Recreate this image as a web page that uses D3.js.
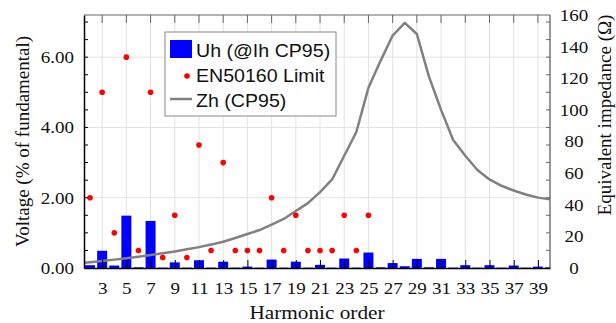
<!DOCTYPE html>
<html>
<head>
<meta charset="utf-8">
<script src="https://cdn.jsdelivr.net/npm/d3@7"></script>
<style>
  body { margin: 0; background: #fff; }
</style>
</head>
<body>
<div id="chart"></div>
<script>
// harmonic orders and values
const uhOrders = d3.range(2, 41);
const uhValues = [0.08, 0.49, 0.07, 1.49, 0.02, 1.34, 0.01, 0.16, 0.01, 0.22,
  0.01, 0.18, 0.01, 0.04, 0.01, 0.24, 0.01, 0.18, 0.01, 0.09,
  0.01, 0.27, 0.01, 0.44, 0.02, 0.14, 0.05, 0.26, 0.02, 0.26,
  0.01, 0.08, 0.01, 0.08, 0.01, 0.07, 0.01, 0.04, 0.02];

const limitOrders = d3.range(2, 26);
const limitValues = [2, 5, 1, 6, 0.5, 5, 0.3, 1.5, 0.3, 3.5,
  0.5, 3, 0.5, 0.5, 0.5, 2, 0.5, 1.5, 0.5, 0.5,
  0.5, 1.5, 0.5, 1.5];

const zhOrders = d3.range(1, 41);
const zhValues = [3.0, 3.7, 4.5, 5.3, 6.1, 7.1, 8.2, 9.3, 10.5, 11.8,
  13.2, 14.8, 16.6, 19, 21.5, 24, 27.5, 31, 36, 41,
  48, 56, 71, 86, 114, 131, 147, 155, 148, 121,
  100, 81, 71, 62, 56, 52, 49, 46.5, 44.5, 43.5];

const xTickValues = d3.range(3, 40, 2);
const yLeftTicks = [0, 2, 4, 6];
const yRightTicks = [0, 20, 40, 60, 80, 100, 120, 140, 160];

const legendItems = ["Uh (@Ih CP95)", "EN50160 Limit", "Zh (CP95)"];

const W = 616, H = 323;
const margin = { top: 15, right: 66, bottom: 55, left: 84 };
const width = W - margin.left - margin.right;
const height = H - margin.top - margin.bottom;
// the original picture is a bit wider than tall, text looks stretched
const sx = 1.12;

const svg = d3.select("#chart").append("svg")
  .attr("width", W).attr("height", H);

const g = svg.append("g")
  .attr("transform", `translate(${margin.left},${margin.top})`);

const x = d3.scaleLinear().domain([1.5, 40]).range([0, width]);
const yL = d3.scaleLinear().domain([0, 7.2]).range([height, 0]);
const yR = d3.scaleLinear().domain([0, 160]).range([height, 0]);

g.append("defs").append("clipPath").attr("id", "plot-clip")
  .append("rect").attr("width", width).attr("height", height);

// grid
g.append("g")
  .selectAll("line")
  .data(xTickValues)
  .join("line")
  .attr("x1", d => x(d)).attr("x2", d => x(d))
  .attr("y1", 0).attr("y2", height)
  .attr("stroke", "#e2e2e2").attr("stroke-width", 1);

g.append("g")
  .selectAll("line")
  .data(yLeftTicks.filter(d => d > 0))
  .join("line")
  .attr("x1", 0).attr("x2", width)
  .attr("y1", d => yL(d)).attr("y2", d => yL(d))
  .attr("stroke", "#e2e2e2").attr("stroke-width", 1);

// bars
const barW = 10;
g.append("g")
  .selectAll("rect")
  .data(uhOrders.map((h, i) => ({ h, v: uhValues[i] })))
  .join("rect")
  .attr("clip-path", "url(#plot-clip)")
  .attr("x", d => x(d.h) - barW / 2)
  .attr("width", barW)
  .attr("y", d => yL(d.v))
  .attr("height", d => height - yL(d.v))
  .attr("fill", "#0000ff");

// impedance line
const line = d3.line()
  .x(d => x(d.h))
  .y(d => yR(d.v));

g.append("path")
  .datum(zhOrders.map((h, i) => ({ h, v: zhValues[i] })))
  .attr("clip-path", "url(#plot-clip)")
  .attr("fill", "none")
  .attr("stroke", "#808080")
  .attr("stroke-width", 2.5)
  .attr("stroke-linejoin", "round")
  .attr("d", line);

// limit points
g.append("g")
  .selectAll("circle")
  .data(limitOrders.map((h, i) => ({ h, v: limitValues[i] })))
  .join("circle")
  .attr("cx", d => x(d.h))
  .attr("cy", d => yL(d.v))
  .attr("r", 2.8)
  .attr("fill", "#ff0000");

// frame: top and right in gray, left and bottom black
g.append("line").attr("x1", 0).attr("x2", width).attr("y1", 0).attr("y2", 0)
  .attr("stroke", "#999").attr("stroke-width", 1.5);
g.append("line").attr("x1", width).attr("x2", width).attr("y1", 0).attr("y2", height)
  .attr("stroke", "#777").attr("stroke-width", 1.5);

// top ticks
g.append("g")
  .selectAll("line")
  .data(xTickValues)
  .join("line")
  .attr("x1", d => x(d)).attr("x2", d => x(d))
  .attr("y1", 0).attr("y2", 8)
  .attr("stroke", "#666").attr("stroke-width", 1);

// right side minor ticks (mirror of left axis)
g.append("g")
  .selectAll("line")
  .data(d3.range(0.5, 7.2, 0.5))
  .join("line")
  .attr("x1", width - 4).attr("x2", width)
  .attr("y1", d => yL(d)).attr("y2", d => yL(d))
  .attr("stroke", "#666").attr("stroke-width", 1);

const serif = "'Liberation Serif', 'Times New Roman', serif";

// bottom axis
const xAxis = g.append("g")
  .attr("transform", `translate(0,${height})`)
  .call(d3.axisBottom(x).tickValues(xTickValues).tickSize(0).tickPadding(14)
    .tickFormat(d3.format("d")));
xAxis.select(".domain").attr("stroke", "#000").attr("stroke-width", 1.5);
xAxis.selectAll(".tick text")
  .attr("transform", `scale(${sx},1)`)
  .style("font-family", serif).style("font-size", "17px").attr("fill", "#111");
xAxis.selectAll(".tick").append("line")
  .attr("y1", 0).attr("y2", -8).attr("stroke", "#000");

// left axis
const yAxisL = g.append("g")
  .call(d3.axisLeft(yL).tickValues(yLeftTicks).tickSize(0).tickPadding(9)
    .tickFormat(d3.format(".2f")));
yAxisL.select(".domain").attr("stroke", "#000").attr("stroke-width", 1.5);
yAxisL.selectAll(".tick text")
  .attr("transform", `scale(${sx},1)`)
  .style("font-family", serif).style("font-size", "17px").attr("fill", "#111");
g.append("g")
  .selectAll("line")
  .data(d3.range(0.5, 7.2, 0.5))
  .join("line")
  .attr("x1", 0).attr("x2", 4)
  .attr("y1", d => yL(d)).attr("y2", d => yL(d))
  .attr("stroke", "#000").attr("stroke-width", 1);

// right axis labels
const yAxisR = g.append("g")
  .attr("transform", `translate(${width},0)`)
  .call(d3.axisRight(yR).tickValues(yRightTicks).tickSize(0).tickPadding(24 / sx));
yAxisR.select(".domain").remove();
yAxisR.selectAll(".tick text")
  .attr("text-anchor", "middle")
  .attr("transform", `scale(${sx},1)`)
  .style("font-family", serif).style("font-size", "17px").attr("fill", "#111");

// axis titles
svg.append("text")
  .attr("transform", `translate(29,${margin.top + height / 2}) rotate(-90)`)
  .attr("text-anchor", "middle")
  .style("font-family", serif).style("font-size", "19px").attr("fill", "#111")
  .text("Voltage (% of fundamental)");

svg.append("text")
  .attr("transform", `translate(611,115) rotate(-90)`)
  .attr("text-anchor", "middle")
  .style("font-family", serif).style("font-size", "19px").attr("fill", "#111")
  .text("Equivalent impedance (\u03a9)");

svg.append("text")
  .attr("transform", `translate(317,319) scale(${sx},1)`)
  .attr("text-anchor", "middle")
  .style("font-family", serif).style("font-size", "19px").attr("fill", "#111")
  .text("Harmonic order");

// legend
const sans = "'Liberation Sans', Arial, sans-serif";
const legend = svg.append("g").attr("transform", "translate(165,32)");
legend.append("rect")
  .attr("width", 171).attr("height", 84)
  .attr("fill", "#fff").attr("stroke", "#888").attr("stroke-width", 1);

legend.append("rect")
  .attr("x", 5).attr("y", 8).attr("width", 22).attr("height", 18)
  .attr("fill", "#0000ff");
legend.append("circle")
  .attr("cx", 22).attr("cy", 44).attr("r", 2.8).attr("fill", "#ff0000");
legend.append("line")
  .attr("x1", 5).attr("x2", 27).attr("y1", 67).attr("y2", 67)
  .attr("stroke", "#808080").attr("stroke-width", 2.5);

legend.selectAll("text.item")
  .data(legendItems)
  .join("text")
  .attr("transform", (d, i) => `translate(31,${25 + i * 25}) scale(${sx},1)`)
  .style("font-family", sans).style("font-size", "17.5px").attr("fill", "#111")
  .text(d => d);
</script>
</body>
</html>
